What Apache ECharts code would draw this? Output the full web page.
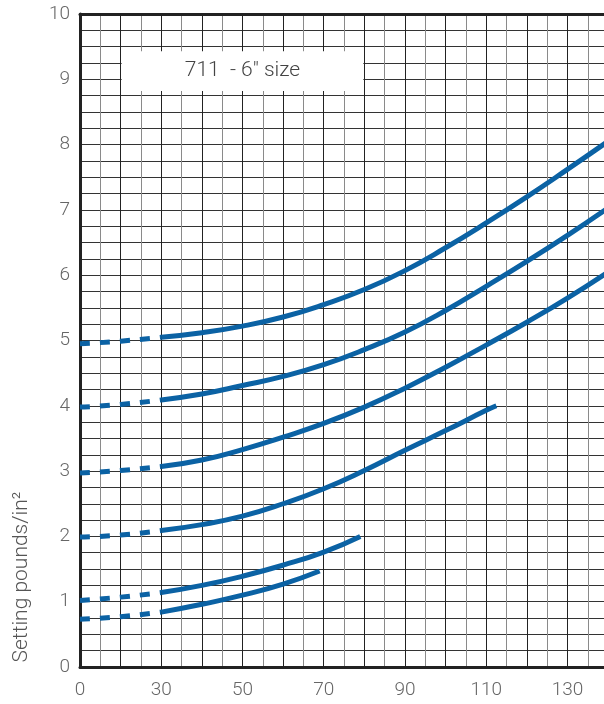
<!DOCTYPE html>
<html>
<head>
<meta charset="utf-8">
<script src="https://cdn.jsdelivr.net/npm/echarts@6/dist/echarts.min.js"></script>
<style>
html,body{margin:0;padding:0;background:#fff;}
#chart{width:604px;height:704px;}
</style>
</head>
<body>
<div id="chart"></div>
<script>
// x positions (the axis starts at 10, labelled "0" as a broken-axis start)
const xLabelValues = [10, 30, 50, 70, 90, 110, 130];
const xLabelTexts  = ['0', '30', '50', '70', '90', '110', '130'];
const yLabelValues = [0,1,2,3,4,5,6,7,8,9,10];
const dashEnd = 30;

// curves: [x, setting pounds/in²]
const curve5 = [[10,4.95],[20,4.99],[30,5.05],[40,5.12],[50,5.22],[60,5.36],[70,5.55],[80,5.78],[90,6.07],[100,6.42],[110,6.8],[120,7.2],[130,7.62],[140,8.05]];
const curve4 = [[10,3.98],[20,4.02],[30,4.09],[40,4.18],[50,4.31],[60,4.45],[70,4.63],[80,4.86],[90,5.13],[100,5.46],[110,5.83],[120,6.21],[130,6.61],[140,7.03]];
const curve3 = [[10,2.97],[20,3.01],[30,3.07],[40,3.17],[50,3.33],[60,3.52],[70,3.73],[80,3.98],[90,4.27],[100,4.59],[110,4.93],[120,5.28],[130,5.65],[140,6.05]];
const curve2 = [[10,1.99],[20,2.02],[30,2.09],[40,2.18],[50,2.31],[60,2.5],[70,2.73],[80,3.01],[90,3.32],[100,3.62],[110,3.93],[112.5,4.0]];
const curve1 = [[10,1.02],[20,1.07],[30,1.14],[40,1.25],[50,1.39],[60,1.56],[70,1.76],[79,2.0]];
const curve075 = [[10,0.73],[20,0.77],[30,0.84],[40,0.96],[50,1.1],[60,1.27],[69,1.47]];
const curves = [curve5, curve4, curve3, curve2, curve1, curve075];

const titleText = '711  - 6\u2033 size';
const titleBox = [[20.25, 9.43], [79.75, 8.82]];
const yName = 'Setting pounds/in\u00b2';

const blue = '#0b62a4';
const font = 'Roboto';
const xMin = 10, xMax = 139;

const series = [];
curves.forEach(function (c, i) {
  series.push({
    type: 'line', name: 'dash' + i, smooth: 0.5, showSymbol: false, silent: true,
    data: c.filter(function (p) { return p[0] <= dashEnd; }),
    lineStyle: { color: blue, width: 5, type: [10, 10], cap: 'butt' },
    z: 3
  });
  series.push({
    type: 'line', name: 'solid' + i, smooth: 0.5, showSymbol: false, silent: true,
    data: c.filter(function (p) { return p[0] >= dashEnd; }),
    lineStyle: { color: blue, width: 5, cap: 'butt' },
    z: 3
  });
});
series.push({
  type: 'line', data: [], silent: true,
  markArea: {
    silent: true,
    itemStyle: { color: '#ffffff', opacity: 1 },
    label: { show: true, position: 'inside', color: '#444', fontSize: 21, fontFamily: font, fontWeight: 300 },
    data: [[
      { name: titleText, coord: titleBox[0] },
      { coord: titleBox[1] }
    ]]
  }
});

const chart = echarts.init(document.getElementById('chart'));
chart.setOption({
  animation: false,
  backgroundColor: '#fff',
  grid: { left: 80, top: 14, right: 0, bottom: 37 },
  xAxis: [{
    type: 'value', min: xMin, max: xMax, interval: 5,
    axisLine: { show: true, onZero: false, lineStyle: { color: '#222', width: 3 } },
    axisTick: { show: false },
    axisLabel: {
      color: '#666', fontSize: 19, fontFamily: font, fontWeight: 300, margin: 14,
      showMaxLabel: false,
      formatter: function (v) { const k = xLabelValues.indexOf(v); return k >= 0 ? xLabelTexts[k] : ''; }
    },
    splitLine: { show: true, lineStyle: { color: ['#222', '#8a8a8a'], width: 1 } }
  }, {
    type: 'value', min: xMin, max: xMax, position: 'top',
    axisLine: { show: true, onZero: false, lineStyle: { color: '#222', width: 3 } },
    axisTick: { show: false }, axisLabel: { show: false }, splitLine: { show: false }
  }],
  yAxis: {
    type: 'value', min: 0, max: 10, interval: 0.25,
    axisLine: { show: true, onZero: false, lineStyle: { color: '#222', width: 3 } },
    axisTick: { show: false },
    axisLabel: {
      color: '#666', fontSize: 19, fontFamily: font, fontWeight: 300, margin: 10,
      formatter: function (v) { return yLabelValues.indexOf(v) >= 0 ? String(v) : ''; }
    },
    splitLine: { show: true, lineStyle: { color: '#333', width: 1 } }
  },
  graphic: [{
    type: 'text', x: 22, y: 577, rotation: Math.PI / 2, silent: true,
    style: { text: yName, fill: '#555', fontSize: 21, fontFamily: font, fontWeight: 300, textAlign: 'center', textVerticalAlign: 'middle' }
  }],
  series: series
});
</script>
</body>
</html>
